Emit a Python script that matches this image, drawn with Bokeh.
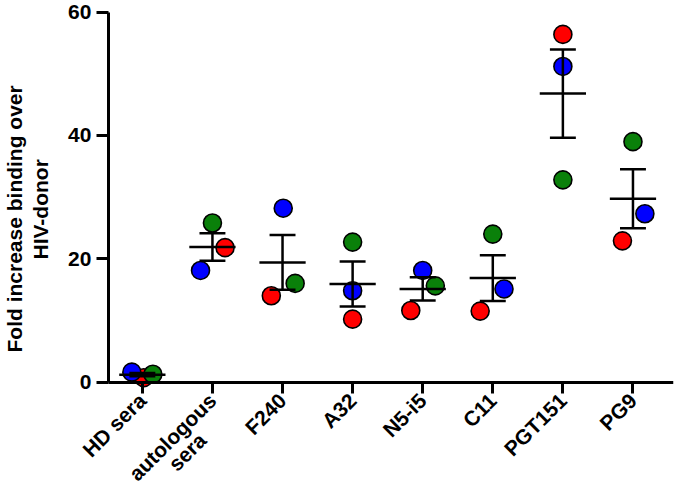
import math
import numpy as np
from bokeh.plotting import figure
from bokeh.models import FixedTicker, Title, ColumnDataSource, Range1d
from bokeh.core.properties import value
from bokeh.embed import file_html
from bokeh.resources import INLINE

# ---- data ----
categories = ["HD sera", "autologous", "F240", "A32", "N5-i5", "C11", "PGT151", "PG9"]
second_line_cat = [1]          # category whose label has a second line
second_line_text = ["sera"]
red_vals   = [0.7, 21.8, 14.0, 10.2, 11.6, 11.5, 56.4, 22.9]
blue_vals  = [1.6, 18.1, 28.2, 14.8, 18.1, 15.1, 51.2, 27.3]
green_vals = [1.25, 25.8, 16.0, 22.7, 15.6, 24.0, 32.8, 39.0]
# horizontal scatter of the dots within each category (category units)
red_jitter   = [0.02, 0.18, -0.16, 0.0, -0.17, -0.18, 0.0, -0.15]
blue_jitter  = [-0.15, -0.17, 0.01, 0.0, 0.0, 0.16, 0.0, 0.17]
green_jitter = [0.15, 0.0, 0.18, 0.0, 0.18, 0.0, 0.0, 0.0]
y_ticks = [0, 20, 40, 60]
y_max = 60
title_lines = ["Fold increase binding over", "HIV-donor"]

FONT = "Liberation Sans"
XFS = 21            # x label font size (px)
TICK_OUT_X = 11
X_STANDOFF = 4

# ---- layout (canvas pixels) ----
W, H = 675, 494
FRAME_LEFT, FRAME_RIGHT = 52, 673      # plotting frame (titles sit left of it)
AXIS_X_PX = 107                        # where the y axis is drawn
CAT0_PX, CAT_STEP = 141, 70.2          # first category position, spacing
AXIS_Y_PX, Y_MAX_PX = 381.5, 11.7      # where y = 0 and y = 60 sit
BOTTOM_BORDER = 2
frame_h = H - BOTTOM_BORDER
px_per_unit = (AXIS_Y_PX - Y_MAX_PX) / y_max
y_start = -(frame_h - AXIS_Y_PX) / px_per_unit
y_end = y_max + Y_MAX_PX / px_per_unit
x_start = -(CAT0_PX - FRAME_LEFT) / CAT_STEP
x_end = (FRAME_RIGHT - CAT0_PX) / CAT_STEP
x_axis_start = -(CAT0_PX - AXIS_X_PX) / CAT_STEP

idx = np.arange(len(categories), dtype=float)
allv = np.array([red_vals, blue_vals, green_vals])
mean = allv.mean(axis=0)
sem = allv.std(axis=0, ddof=1) / math.sqrt(allv.shape[0])

p = figure(width=W, height=H, output_backend="svg", toolbar_location=None,
           x_range=Range1d(x_start, x_end), y_range=Range1d(y_start, y_end),
           min_border_left=FRAME_LEFT, min_border_right=W - FRAME_RIGHT,
           min_border_top=0, min_border_bottom=BOTTOM_BORDER)
p.outline_line_color = None
p.grid.visible = False
p.background_fill_color = "white"
p.border_fill_color = "white"

# both axes are drawn at fixed data locations inside the frame
p.xaxis.fixed_location = 0
p.xaxis.bounds = (x_axis_start, x_end)
p.xaxis.ticker = FixedTicker(ticks=list(range(len(categories))))
p.xaxis.major_label_overrides = {i: c for i, c in enumerate(categories)}
p.xaxis.major_label_orientation = math.pi / 4
p.yaxis.fixed_location = x_axis_start
p.yaxis.bounds = (0, y_max)
p.yaxis.ticker = FixedTicker(ticks=y_ticks)

for ax in (p.xaxis[0], p.yaxis[0]):
    ax.axis_line_width = 3
    ax.axis_line_color = "black"
    ax.major_tick_line_width = 3
    ax.major_tick_line_color = "black"
    ax.major_tick_in = 0
    ax.minor_tick_line_color = None
    ax.major_label_text_font = FONT
    ax.major_label_text_font_style = "bold"
    ax.major_label_text_color = "black"
p.xaxis.major_tick_out = TICK_OUT_X
p.xaxis.major_label_text_font_size = f"{XFS}px"
p.xaxis.major_label_standoff = X_STANDOFF
p.yaxis.major_tick_out = 12
p.yaxis.major_label_text_font_size = "21px"
p.yaxis.major_label_standoff = 5

# second line of "autologous / sera", centred one line below the first line
ang = math.pi / 4
w_first = 5.39 * XFS          # width of "autologous" (Arial-bold metrics)
lh = 1.0 * XFS
dx = -math.cos(ang) * w_first / 2 + math.sin(ang) * lh
dy = TICK_OUT_X + X_STANDOFF + math.sin(ang) * w_first / 2 + math.cos(ang) * lh
p.text(x=second_line_cat, y=[0] * len(second_line_cat), text=second_line_text,
       angle=ang, x_offset=dx, y_offset=dy, text_align="center",
       text_baseline="middle", text_font=value(FONT), text_font_style="bold",
       text_font_size=value(f"{XFS}px"), text_color="black")

# y-axis title: two lines, the inner one added first; start measured from frame bottom
for text, standoff, start_px in ((title_lines[1], 3, 259), (title_lines[0], 0, 352)):
    p.add_layout(Title(text=text, align="left", text_font=FONT,
                       text_font_style="bold", text_font_size="21px",
                       text_color="black", offset=frame_h - start_px,
                       standoff=standoff), "left")

# points
for vals, jit, col in ((red_vals, red_jitter, "#ff0000"),
                       (blue_vals, blue_jitter, "#0000ff"),
                       (green_vals, green_jitter, "#0a800a")):
    src = ColumnDataSource(dict(x=idx + np.array(jit), y=vals))
    p.scatter("x", "y", source=src, size=18, fill_color=col,
              line_color="black", line_width=1.6)

# mean +/- SEM
LW = 2.5
p.segment(x0=idx - 0.33, y0=mean, x1=idx + 0.33, y1=mean,
          line_color="black", line_width=LW)
p.segment(x0=idx, y0=mean - sem, x1=idx, y1=mean + sem,
          line_color="black", line_width=LW)
p.segment(x0=idx - 0.185, y0=mean + sem, x1=idx + 0.185, y1=mean + sem,
          line_color="black", line_width=LW)
p.segment(x0=idx - 0.185, y0=mean - sem, x1=idx + 0.185, y1=mean - sem,
          line_color="black", line_width=LW)

open("out.html", "w").write(file_html(p, INLINE))
